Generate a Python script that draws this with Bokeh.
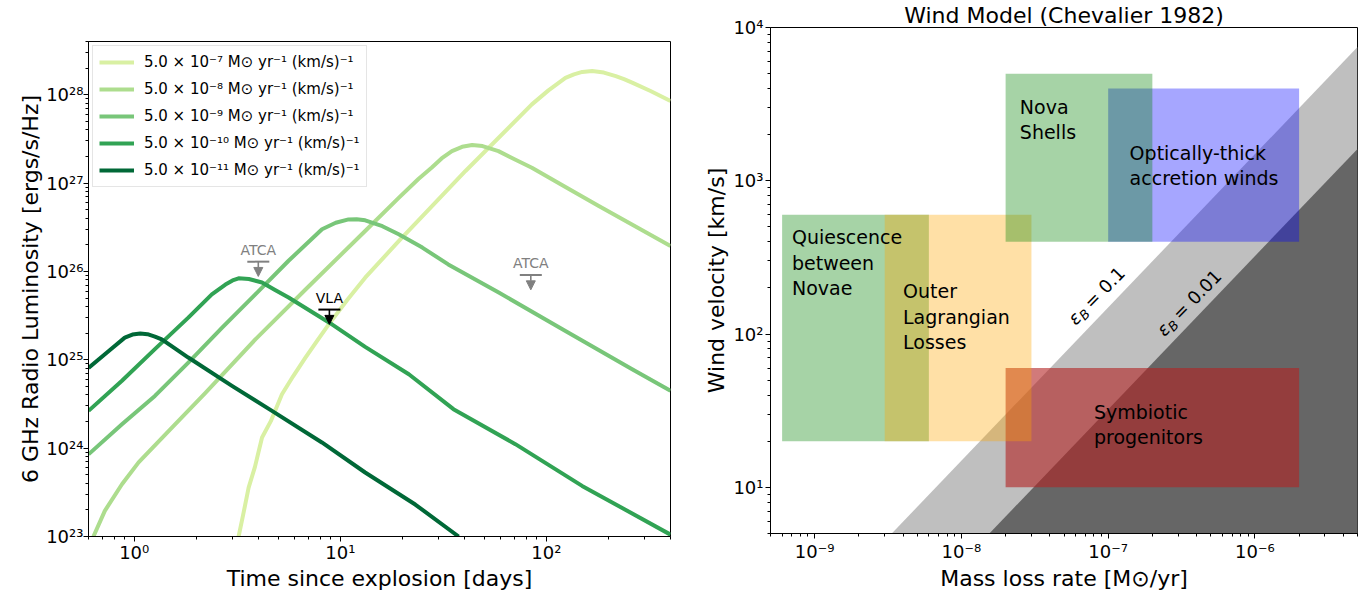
import math
from bokeh.plotting import figure
from bokeh.models import (FixedTicker, CustomJSTickFormatter, Legend, LegendItem,
                          Label, Arrow, NormalHead, Range1d)
from bokeh.layouts import row, column
from bokeh.embed import file_html
from bokeh.resources import INLINE
from bokeh.core.properties import value

FONT = "DejaVu Sans"

# ---------------- Left panel data: light curves ----------------
SERIES_LABELS = [
    "5.0 × 10⁻⁷ M⊙ yr⁻¹ (km/s)⁻¹",
    "5.0 × 10⁻⁸ M⊙ yr⁻¹ (km/s)⁻¹",
    "5.0 × 10⁻⁹ M⊙ yr⁻¹ (km/s)⁻¹",
    "5.0 × 10⁻¹⁰ M⊙ yr⁻¹ (km/s)⁻¹",
    "5.0 × 10⁻¹¹ M⊙ yr⁻¹ (km/s)⁻¹",
]
T_M7 = [3.21, 3.38, 3.59, 3.85, 4.17, 4.6, 5.21, 5.9, 6.76, 7.7, 8.77, 10.8, 13.2, 19.2, 40.5,
        85.0, 102.3, 123.7, 136.0, 149.2, 166.8, 190.0, 217.0, 238.0, 260.6, 320.0, 400.0]
L_M7 = [1e23, 1.78e23, 3.58e23, 6.1e23, 1.32e24, 2.02e24, 4.07e24, 6.5e24, 1.05e25, 1.63e25, 2.5e25,
        4.75e25, 8.5e25, 2.2e26, 1.37e27, 7.77e27, 1.12e28, 1.55e28, 1.7e28, 1.81e28, 1.85e28,
        1.78e28, 1.62e28, 1.5e28, 1.37e28, 1.1e28, 8.5e27]

T_M8 = [0.634, 0.72, 0.872, 1.05, 1.52, 2.21, 3.87, 6.76, 13.2, 19.2, 24.0, 27.8, 31.0, 34.8, 39.0,
        43.6, 49.0, 58.5, 70.0, 85.0, 123.7, 179.5, 400.0]
L_M8 = [1e23, 1.95e23, 3.9e23, 6.9e23, 1.7e24, 4.2e24, 1.7e25, 6.2e25, 2.87e26, 6.8e26, 1.12e27,
        1.5e27, 1.9e27, 2.3e27, 2.57e27, 2.69e27, 2.62e27, 2.3e27, 1.86e27, 1.49e27, 9.0e26,
        5.5e26, 1.94e26]

T_M9 = [0.6, 0.872, 1.26, 1.83, 2.67, 3.87, 5.61, 8.15, 9.5, 10.96, 12.0, 13.2, 16.0, 19.2, 25.0,
        33.4, 58.7, 123.7, 260.6, 400.0]
L_M9 = [8.5e23, 1.86e24, 3.9e24, 9.3e24, 2.31e25, 5.5e25, 1.32e26, 3.0e26, 3.55e26, 3.88e26,
        3.9e26, 3.79e26, 3.25e26, 2.63e26, 1.86e26, 1.2e26, 5.76e25, 2.12e25, 7.8e24, 4.45e24]

T_M10 = [0.6, 0.872, 1.26, 1.83, 2.38, 2.77, 3.0, 3.21, 3.6, 4.17, 4.8, 5.61, 8.85, 13.2, 21.5,
         35.4, 70.7, 149.0, 400.0]
L_M10 = [2.64e24, 5.8e24, 1.32e25, 3.0e25, 5.5e25, 7.1e25, 7.9e25, 8.36e25, 8.2e25, 7.5e25,
         6.2e25, 5.06e25, 2.63e25, 1.4e25, 6.85e24, 2.76e24, 1.11e24, 3.74e23, 1.05e23]

T_M11 = [0.6, 0.765, 0.9, 0.98, 1.07, 1.16, 1.26, 1.36, 1.55, 1.83, 2.98, 4.66, 8.14, 13.2, 23.1, 37.5]
L_M11 = [8.1e24, 1.3e25, 1.78e25, 1.93e25, 1.98e25, 1.95e25, 1.83e25, 1.7e25, 1.38e25, 1.06e25,
         5.07e24, 2.64e24, 1.16e24, 5.3e23, 2.3e23, 1e23]

# upper limits
LIM_T = [4.0, 8.85, 84.0]
LIM_L = [1.29e26, 3.7e25, 9.1e25]
LIM_NAME = ["ATCA", "VLA", "ATCA"]

# ---------------- Right panel data: parameter space ----------------
REGION_NAMES = ["Symbiotic\nprogenitors", "Quiescence\nbetween\nNovae",
                "Outer\nLagrangian\nLosses", "Optically-thick\naccretion winds",
                "Nova\nShells"]
MDOT_LO = [2e-8, 6e-10, 3e-9, 1e-7, 2e-8]
MDOT_HI = [2e-6, 6e-9, 3e-8, 2e-6, 2e-7]
VW_LO = [10, 20, 20, 400, 400]
VW_HI = [60, 600, 600, 4000, 5000]

EPS_VALUES = ["0.1", "0.01"]
EPS_MDOT_PER_V = [6.7e-10, 3.1e-9]   # detection threshold Mdot/v

# ---------------- styling ----------------
CURVE_COLORS = ["#d9f0a3", "#addd8e", "#78c679", "#31a354", "#006837"]
LIM_COLORS = ["#808080", "#000000", "#808080"]
REGION_COLORS = ["#b22222", "#008000", "#ffa500", "#0000ff", "#008000"]
REGION_ALPHA = [0.6, 0.35, 0.35, 0.35, 0.35]
REGION_TEXT_X = [8.0e-8, 7.0e-10, 4.0e-9, 1.4e-7, 2.5e-8]
REGION_TEXT_TOP = [36.5, 505.0, 224.0, 1800.0, 3600.0]
EPS_TEXT_X = [8.3e-8, 3.55e-7]
EPS_TEXT_Y = [178.0, 160.0]
EPS_GRAYS = ["#bfbfbf", "#666666"]

SUP = """
const sup = {"-":"⁻","0":"⁰","1":"¹","2":"²","3":"³","4":"⁴","5":"⁵","6":"⁶","7":"⁷","8":"⁸","9":"⁹"};
const e = Math.round(Math.log10(tick));
let s = "";
for (const c of String(e)) { s += sup[c]; }
return "10" + s;
"""


def log_ticks(lo, hi):
    major, minor = [], []
    for e in range(int(math.floor(math.log10(lo))) - 1, int(math.ceil(math.log10(hi))) + 1):
        for k in range(1, 10):
            v = k * 10.0 ** e
            if lo * 0.999 <= v <= hi * 1.001:
                (major if k == 1 else minor).append(v)
    return major, minor


def style(p, xr, yr, label_standoff, title_standoff):
    p.grid.visible = False
    p.outline_line_color = "black"
    p.outline_line_width = 1
    p.background_fill_color = "white"
    p.border_fill_color = "white"
    for ax, rng in ((p.xaxis[0], xr), (p.yaxis[0], yr)):
        mj, mn = log_ticks(*rng)
        ax.ticker = FixedTicker(ticks=mj, minor_ticks=mn)
        ax.formatter = CustomJSTickFormatter(code=SUP)
        ax.axis_line_color = "black"
        ax.major_tick_out = 5
        ax.major_tick_in = 0
        ax.minor_tick_out = 3
        ax.minor_tick_in = 0
        ax.major_tick_line_color = "black"
        ax.minor_tick_line_color = "black"
        ax.major_label_text_font = FONT
        ax.major_label_text_font_size = "18px"
        ax.major_label_text_color = "black"
        ax.major_label_standoff = label_standoff
        ax.axis_label_text_font = FONT
        ax.axis_label_text_font_size = "22px"
        ax.axis_label_text_font_style = "normal"
        ax.axis_label_text_color = "black"
        ax.axis_label_standoff = title_standoff


# ---------------- Left figure ----------------
XR1 = (0.6, 400.0)
YR1 = (1e23, 4e28)
p1 = figure(width=700, height=593, x_axis_type="log", y_axis_type="log",
            x_range=Range1d(*XR1), y_range=Range1d(*YR1),
            output_backend="svg", toolbar_location=None,
            min_border_left=88, min_border_right=30, min_border_top=41, min_border_bottom=56)
style(p1, XR1, YR1, 0, 0)
p1.xaxis.axis_label = "Time since explosion [days]"
p1.yaxis.axis_label = "6 GHz Radio Luminosity [ergs/s/Hz]"

items = []
for lab, t, L, c in zip(SERIES_LABELS, [T_M7, T_M8, T_M9, T_M10, T_M11],
                        [L_M7, L_M8, L_M9, L_M10, L_M11], CURVE_COLORS):
    r = p1.line(t, L, line_color=c, line_width=4, line_join="round")
    items.append(LegendItem(label=lab, renderers=[r]))

leg = Legend(items=items, location="top_left", margin=4, padding=6,
             border_line_color="#cccccc", border_line_width=1,
             background_fill_alpha=0.9, label_text_font=FONT, label_text_color="black",
             label_text_font_size="15px", glyph_width=35, glyph_height=20,
             label_height=20, label_standoff=10, spacing=7)
p1.add_layout(leg)

ARROW_DROP = 0.68
for t, L, name, c in zip(LIM_T, LIM_L, LIM_NAME, LIM_COLORS):
    p1.add_layout(Arrow(end=NormalHead(size=9, fill_color=c, line_color=c),
                        x_start=t, y_start=L, x_end=t, y_end=L * ARROW_DROP,
                        line_color=c, line_width=1.6))
    p1.add_layout(Label(x=t, y=L, text=name, text_align="center",
                        text_baseline="bottom", y_offset=4, text_color=c,
                        text_font=FONT, text_font_size="14px"))
p1.scatter(LIM_T, LIM_L, marker="dash", size=22, line_color=LIM_COLORS, line_width=2)

# ---------------- Right figure ----------------
XR2 = (5e-10, 5e-6)
YR2 = (5.0, 1e4)
p2 = figure(width=669, height=593, x_axis_type="log", y_axis_type="log",
            x_range=Range1d(*XR2), y_range=Range1d(*YR2),
            output_backend="svg", toolbar_location=None,
            title="Wind Model (Chevalier 1982)",
            min_border_left=70, min_border_right=12, min_border_top=26, min_border_bottom=60)
style(p2, XR2, YR2, 2, 1)
p2.title.align = "center"
p2.title.text_font = FONT
p2.title.text_font_size = "22px"
p2.title.text_font_style = "normal"
p2.title.text_color = "black"
p2.title.standoff = 0
p2.xaxis.axis_label = "Mass loss rate [M⊙/yr]"
p2.yaxis.axis_label = "Wind velocity [km/s]"

for k, g in zip(EPS_MDOT_PER_V, EPS_GRAYS):
    xs = [XR2[0], XR2[1]]
    p2.varea(x=xs, y1=[1e-3, 1e-3], y2=[x / k for x in xs], fill_color=g)

p2.quad(left=MDOT_LO, right=MDOT_HI, bottom=VW_LO, top=VW_HI,
        fill_color=REGION_COLORS, fill_alpha=REGION_ALPHA, line_color=None)

p2.text(x=REGION_TEXT_X, y=REGION_TEXT_TOP, text=REGION_NAMES,
        text_font=value(FONT), text_font_size="19px", text_align="left",
        text_baseline="top", text_line_height=1.15, text_color="black")

theta = math.radians(45.7)
for ex, ey, ev in zip(EPS_TEXT_X, EPS_TEXT_Y, EPS_VALUES):
    rest = "= " + ev
    w_eps, w_b, gap = 10.0, 9.0, 4.0
    w_rest = 18 * (0.838 + 0.318 + 0.636 * (len(ev) - 1) + 0.318)
    total = w_eps + w_b + gap + w_rest
    pieces = [("ε", "18px", "italic", w_eps / 2, 0.0),
              ("B", "13px", "italic", w_eps + w_b / 2, 5.0),
              (rest, "18px", "normal", w_eps + w_b + gap + w_rest / 2, 0.0)]
    for txt, fs, fst, s, drop in pieces:
        s = s - total / 2
        xo = s * math.cos(theta) + drop * math.sin(theta)
        yo = s * math.sin(theta) - drop * math.cos(theta)
        p2.add_layout(Label(x=ex, y=ey, text=txt, angle=theta, x_offset=xo, y_offset=yo,
                            text_align="center", text_baseline="middle",
                            text_font=FONT, text_font_size=fs, text_font_style=fst,
                            text_color="black"))

layout = row(column(p1), column(p2))
open("out.html", "w").write(file_html(layout, INLINE))
